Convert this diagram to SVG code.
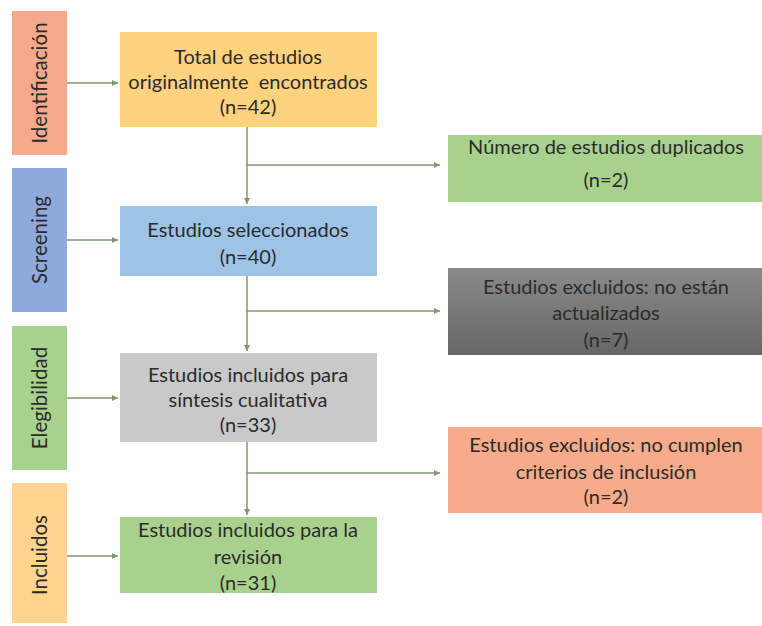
<svg xmlns="http://www.w3.org/2000/svg" width="762" height="626" viewBox="0 0 762 626">
<defs>
<marker id="ah" markerWidth="8" markerHeight="8" refX="6" refY="3" orient="auto" markerUnits="userSpaceOnUse">
<path d="M0,0 L6,3 L0,6 Z" fill="#7d9a6e"/>
</marker>
<linearGradient id="gGray" x1="0" y1="0" x2="0" y2="1"><stop offset="0" stop-color="#8a8a8a"/><stop offset="1" stop-color="#666"/></linearGradient>
</defs>
<style>
text{font-family:"Lato","Open Sans","Liberation Sans",sans-serif;font-size:20px;fill:#2b2b2b;text-anchor:middle}
.side text{font-size:20.5px}
.c{stroke:#7d9a6e;stroke-width:1.5;fill:none}
</style>
<rect width="762" height="626" fill="#fff"/>
<g id="side-identificacion" class="side"><rect x="12" y="11" width="55" height="144" fill="#f6a98a"/><text transform="translate(47,83) rotate(-90)">Identificación</text></g>
<g id="side-screening" class="side"><rect x="12" y="168" width="55" height="144" fill="#8ea9db"/><text transform="translate(47,240) rotate(-90)">Screening</text></g>
<g id="side-elegibilidad" class="side"><rect x="12" y="326" width="55" height="144" fill="#a9d18e"/><text transform="translate(47,398) rotate(-90)">Elegibilidad</text></g>
<g id="side-incluidos" class="side"><rect x="12" y="483" width="55" height="140" fill="#ffd48e"/><text transform="translate(47,555) rotate(-90)">Incluidos</text></g>

<g id="n-total"><rect x="120" y="32" width="257" height="95" fill="#ffd27f"/><text x="248" y="64">Total de estudios</text><text x="248" y="89" xml:space="preserve">originalmente  encontrados</text><text x="248" y="114">(n=42)</text></g>
<g id="n-seleccionados"><rect x="120" y="206" width="257" height="70" fill="#9dc3e6"/><text x="248" y="237">Estudios seleccionados</text><text x="248" y="264">(n=40)</text></g>
<g id="n-sintesis"><rect x="120" y="353" width="257" height="89" fill="#c9c9c9"/><text x="248" y="382">Estudios incluidos para</text><text x="248" y="407">síntesis cualitativa</text><text x="248" y="432">(n=33)</text></g>
<g id="n-revision"><rect x="120" y="517" width="257" height="76" fill="#a9d18e"/><text x="248" y="537">Estudios incluidos para la</text><text x="248" y="564">revisión</text><text x="248" y="590">(n=31)</text></g>

<g id="n-duplicados"><rect x="448" y="135" width="314" height="67" fill="#a9d18e"/><text x="606" y="154">Número de estudios duplicados</text><text x="606" y="187">(n=2)</text></g>
<g id="n-actualizados"><rect x="448" y="268" width="314" height="87" fill="url(#gGray)"/><text x="606" y="294">Estudios excluidos: no están</text><text x="606" y="320">actualizados</text><text x="606" y="347">(n=7)</text></g>
<g id="n-criterios"><rect x="448" y="427" width="314" height="86" fill="#f8ab8b"/><text x="606" y="452">Estudios excluidos: no cumplen</text><text x="606" y="479">criterios de inclusión</text><text x="606" y="504">(n=2)</text></g>

<g id="connectors">
<line class="c" x1="67" y1="83" x2="118" y2="83" marker-end="url(#ah)"/>
<line class="c" x1="67" y1="240" x2="118" y2="240" marker-end="url(#ah)"/>
<line class="c" x1="67" y1="398" x2="118" y2="398" marker-end="url(#ah)"/>
<line class="c" x1="67" y1="556" x2="118" y2="556" marker-end="url(#ah)"/>
<line class="c" x1="247" y1="127" x2="247" y2="204" marker-end="url(#ah)"/>
<line class="c" x1="247" y1="276" x2="247" y2="351" marker-end="url(#ah)"/>
<line class="c" x1="247" y1="442" x2="247" y2="515" marker-end="url(#ah)"/>
<line class="c" x1="247" y1="165" x2="440" y2="165" marker-end="url(#ah)"/>
<line class="c" x1="247" y1="311" x2="440" y2="311" marker-end="url(#ah)"/>
<line class="c" x1="247" y1="473" x2="440" y2="473" marker-end="url(#ah)"/>
</g>
</svg>
